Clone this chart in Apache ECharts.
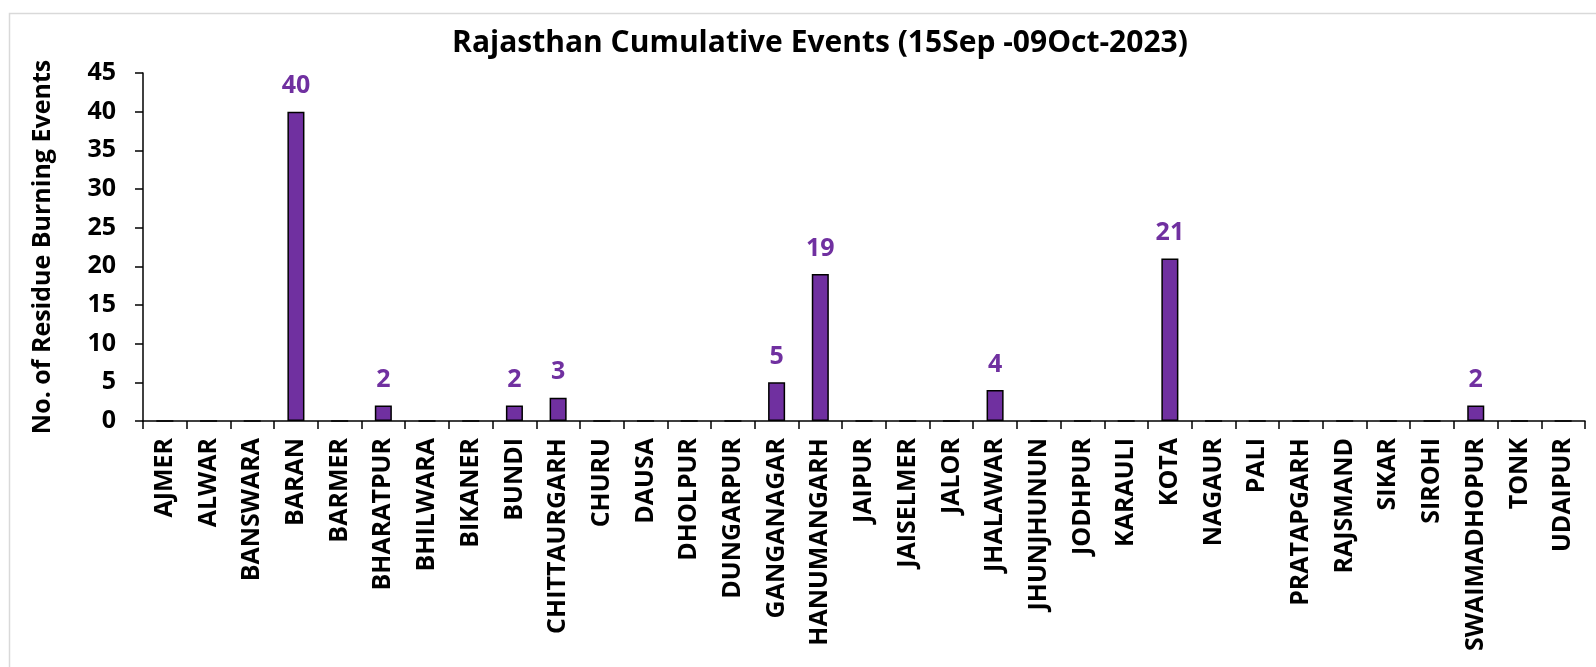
<!DOCTYPE html>
<html>
<head>
<meta charset="utf-8">
<script src="https://cdn.jsdelivr.net/npm/echarts@6/dist/echarts.min.js"></script>
<style>
  html, body { margin: 0; padding: 0; background: #fff; }
  #chart { width: 1596px; height: 667px; }
</style>
</head>
<body>
<div id="chart"></div>
<script>
// districts on the x axis
const districts = ['AJMER', 'ALWAR', 'BANSWARA', 'BARAN', 'BARMER', 'BHARATPUR', 'BHILWARA', 'BIKANER',
  'BUNDI', 'CHITTAURGARH', 'CHURU', 'DAUSA', 'DHOLPUR', 'DUNGARPUR', 'GANGANAGAR', 'HANUMANGARH',
  'JAIPUR', 'JAISELMER', 'JALOR', 'JHALAWAR', 'JHUNJHUNUN', 'JODHPUR', 'KARAULI', 'KOTA', 'NAGAUR',
  'PALI', 'PRATAPGARH', 'RAJSMAND', 'SIKAR', 'SIROHI', 'SWAIMADHOPUR', 'TONK', 'UDAIPUR'];
// cumulative events per district
const events = [0, 0, 0, 40, 0, 2, 0, 0, 2, 3, 0, 0, 0, 0, 5, 19, 0, 0, 0, 4, 0, 0, 0, 21, 0, 0, 0, 0, 0, 0, 2, 0, 0];

const font = 'Open Sans';
const chart = echarts.init(document.getElementById('chart'));

const option = {
  backgroundColor: '#fff',
  animation: false,
  title: {
    text: 'Rajasthan Cumulative Events (15Sep -09Oct-2023)',
    left: 815, top: 23, textAlign: 'center',
    textStyle: { fontFamily: font, fontSize: 30, fontWeight: 'bold', color: '#000' }
  },
  graphic: [{
    type: 'rect',
    shape: { x: 9.5, y: 13.5, width: 1600, height: 700 },
    style: { fill: 'none', stroke: '#d9d9d9', lineWidth: 1.5 },
    silent: true
  }],
  grid: { left: 143, right: 11, top: 73, bottom: 246 },
  xAxis: {
    type: 'category',
    data: districts,
    axisLine: { lineStyle: { color: '#000', width: 1.5 } },
    axisTick: { show: true, alignWithLabel: false, length: 8, lineStyle: { color: '#000', width: 1.5 } },
    axisLabel: {
      interval: 0, rotate: 90, margin: 17,
      fontFamily: font, fontSize: 25, fontWeight: 'bold', color: '#000'
    }
  },
  yAxis: {
    type: 'value',
    min: 0, max: 45, interval: 5,
    name: 'No. of Residue Burning Events',
    nameLocation: 'middle', nameGap: 88, nameRotate: 90,
    nameTextStyle: { fontFamily: font, fontSize: 25, fontWeight: 'bold', color: '#000' },
    axisLine: { show: true, lineStyle: { color: '#000', width: 1.5 } },
    axisTick: { show: true, length: 8, inside: false, lineStyle: { color: '#000', width: 1.5 } },
    splitLine: { show: false },
    axisLabel: { margin: 27, fontFamily: font, fontSize: 25, fontWeight: 'bold', color: '#000' }
  },
  series: [{
    type: 'bar',
    data: events,
    barWidth: '39%',
    itemStyle: { color: '#7030A0', borderColor: '#000', borderWidth: 1.5 },
    label: {
      show: true, position: 'top', distance: 13,
      fontFamily: font, fontSize: 25, fontWeight: 'bold', color: '#7030A0',
      formatter: function (p) { return p.value > 0 ? p.value : ''; }
    }
  }]
};

chart.setOption(option);
</script>
</body>
</html>
